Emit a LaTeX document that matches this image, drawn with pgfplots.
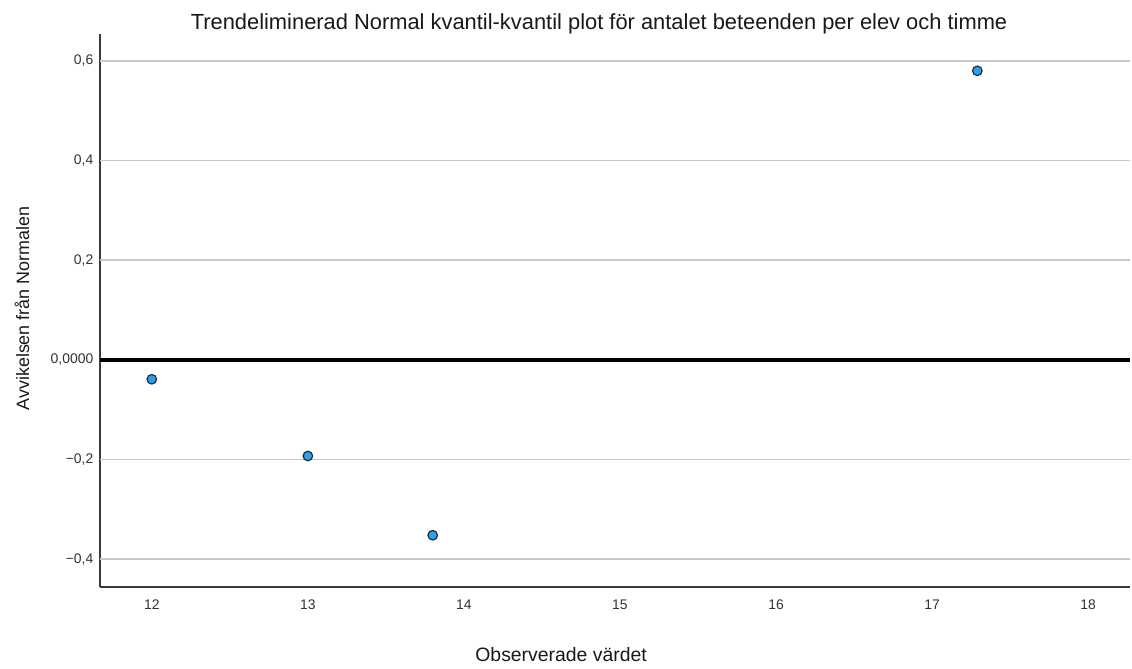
\documentclass[border=0pt]{standalone}
\usepackage{pgfplots}
\pgfplotsset{compat=1.18}
\usepackage{fontspec}
\setmainfont{Liberation Sans}
\definecolor{ptfill}{HTML}{26A0F2}
\definecolor{ptedge}{HTML}{2B2B2B}
\definecolor{gridc}{HTML}{C8C8C8}
\definecolor{axc}{HTML}{3A3A3A}
\begin{document}
\begin{tikzpicture}[x=1bp,y=1bp]
\begin{axis}[
  name=ax,
  at={(0,0)}, anchor=south west,
  scale only axis,
  width=1032bp, height=554bp,
  xmin=11.667, xmax=18.27,
  ymin=-0.456, ymax=0.654,
  axis x line*=bottom, axis y line*=left,
  axis line style={draw=axc, line width=1.5bp, -},
  xtick={12,13,14,15,16,17,18},
  ytick={-0.4,-0.2,0,0.2,0.4,0.6},
  yticklabels={{−0,4},{−0,2},{0,0000},{0,2},{0,4},{0,6}},
  major tick length=0pt,
  tick label style={font=\fontsize{14}{16}\selectfont, text=black!80},
  /pgf/number format/assume math mode=true,
  xticklabel style={yshift=-9bp},
  yticklabel style={xshift=-3bp},
  clip=false,
]
\foreach \yy in {-0.4,-0.2,0.2,0.4,0.6} {
  \edef\temp{\noexpand\draw[gridc, line width=1.5bp] (axis cs:11.667,\yy) -- (axis cs:18.27,\yy);}
  \temp
}
\draw[black, line width=3.5bp] (axis cs:11.667,0) -- (axis cs:18.27,0);
\addplot[only marks, mark=*, mark size=4.8bp, mark options={fill=ptfill, draw=ptedge, line width=1.2bp}]
coordinates {
(12.0,-0.039)
(13.0,-0.193)
(13.8,-0.352)
(17.29,0.580)
};
\end{axis}
\node[font=\fontsize{22}{26}\selectfont, text=black!90, anchor=base, inner sep=0pt] at (500bp,558bp) {Trendeliminerad Normal kvantil-kvantil plot för antalet beteenden per elev och timme};
\node[font=\fontsize{18}{21}\selectfont, text=black!90, rotate=90] at (-78bp,279bp) {Avvikelsen från Normalen};
\node[font=\fontsize{19.5}{23}\selectfont, text=black!90, anchor=base, inner sep=0pt] at (462bp,-75bp) {Observerade värdet};
\useasboundingbox (-100bp,-82bp) rectangle (1032bp,588bp);
\end{tikzpicture}
\end{document}
